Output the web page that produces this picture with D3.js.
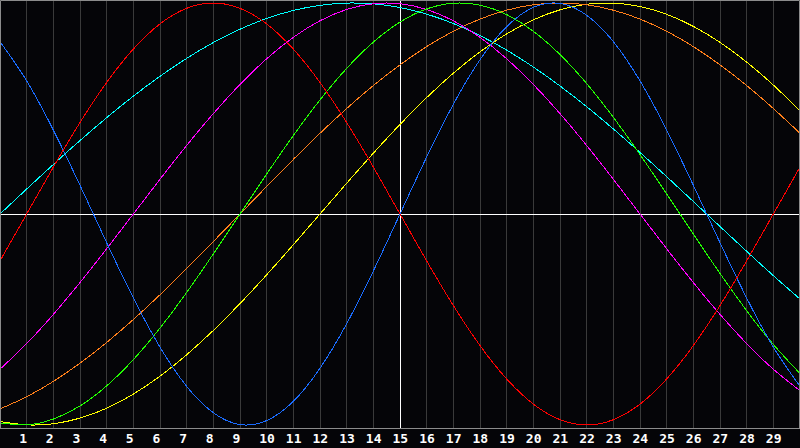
<!DOCTYPE html>
<html>
<head>
<meta charset="utf-8">
<script src="https://cdn.jsdelivr.net/npm/d3@7"></script>
<style>
  html, body { margin: 0; padding: 0; background: #050508; }
  svg { display: block; }
</style>
</head>
<body>
<svg id="chart"></svg>
<script>
const width = 800;
const height = 448;
const plotBottom = 428;

// days shown on the axis
const days = d3.range(1, 30);
const centerDay = 15;

// day positions where the curves were read (0..30)
const sampleDays = d3.range(0, 31);

// values, one per day (day 0 .. day 30)
const blue = [0.817, 0.631, 0.398, 0.136, -0.136, -0.398, -0.631, -0.817, -0.942, -0.998,
  -0.979, -0.888, -0.731, -0.520, -0.270, 0, 0.270, 0.520, 0.731, 0.888,
  0.979, 0.998, 0.942, 0.817, 0.631, 0.398, 0.136, -0.136, -0.398, -0.631, -0.817];
const red = [-0.2225, 0, 0.2225, 0.4339, 0.6235, 0.7818, 0.9010, 0.9749, 1, 0.9749,
  0.9010, 0.7818, 0.6235, 0.4339, 0.2225, 0, -0.2225, -0.4339, -0.6235, -0.7818,
  -0.9010, -0.9749, -1, -0.9749, -0.9010, -0.7818, -0.6235, -0.4339, -0.2225, 0, 0.2225];
const green = [-0.9898, -0.9989, -0.9718, -0.9096, -0.8146, -0.6901, -0.5406, -0.3717, -0.1893, 0,
  0.1893, 0.3717, 0.5406, 0.6901, 0.8146, 0.9096, 0.9718, 0.9989, 0.9898, 0.9450,
  0.8660, 0.7557, 0.6182, 0.4582, 0.2817, 0.0950, -0.0950, -0.2817, -0.4582, -0.6182, -0.7557];
const magenta = [-0.7357, -0.6142, -0.4759, -0.3247, -0.1646, 0, 0.1646, 0.3247, 0.4759, 0.6142,
  0.7357, 0.8372, 0.9158, 0.9694, 0.9966, 0.9966, 0.9694, 0.9158, 0.8372, 0.7357,
  0.6142, 0.4759, 0.3247, 0.1646, 0, -0.1646, -0.3247, -0.4759, -0.6142, -0.7357, -0.8372];
const yellow = [-0.9834, -0.9993, -0.9940, -0.9675, -0.9204, -0.8536, -0.7687, -0.6673, -0.5517, -0.4245,
  -0.2881, -0.1456, 0, 0.1456, 0.2881, 0.4245, 0.5517, 0.6673, 0.7687, 0.8536,
  0.9204, 0.9675, 0.9940, 0.9993, 0.9834, 0.9465, 0.8893, 0.8133, 0.7200, 0.6111, 0.4894];
const orange = [-0.9239, -0.8660, -0.7934, -0.7071, -0.6088, -0.5, -0.3827, -0.2588, -0.1305, 0,
  0.1305, 0.2588, 0.3827, 0.5, 0.6088, 0.7071, 0.7934, 0.8660, 0.9239, 0.9659,
  0.9914, 1, 0.9914, 0.9659, 0.9239, 0.8660, 0.7934, 0.7071, 0.6088, 0.5, 0.3827];
const cyan = [0, 0.1183, 0.2349, 0.3482, 0.4566, 0.5586, 0.6527, 0.7377, 0.8126, 0.8757,
  0.9267, 0.9646, 0.9890, 0.9996, 0.9961, 0.9785, 0.9473, 0.9028, 0.8457, 0.7767,
  0.6965, 0.6068, 0.5086, 0.4031, 0.2920, 0.1769, 0.0593, -0.0593, -0.1769, -0.2920, -0.4031];

const series = [
  { values: cyan, color: "#00ffff" },
  { values: yellow, color: "#ffff00" },
  { values: orange, color: "#ff7f1a" },
  { values: magenta, color: "#ff00ff" },
  { values: green, color: "#22ff00" },
  { values: blue, color: "#1a6cff" },
  { values: red, color: "#ff0000" },
];

const xScale = d3.scaleLinear().domain([0, 30]).range([0, width]);
const yScale = d3.scaleLinear().domain([-1, 1]).range([425, 3]);

const px = (v) => Math.floor(v) + 0.5;

const svg = d3.select("#chart")
  .attr("width", width)
  .attr("height", height)
  .style("background", "#050508");

// day grid
svg.append("g")
  .attr("class", "grid")
  .selectAll("line")
  .data(days.filter((d) => d !== centerDay))
  .join("line")
  .attr("x1", (d) => px(xScale(d)))
  .attr("x2", (d) => px(xScale(d)))
  .attr("y1", 0)
  .attr("y2", plotBottom)
  .attr("stroke", "#3a3a3a")
  .attr("stroke-width", 1);

// centre cross
svg.append("line")
  .attr("x1", px(xScale(centerDay)))
  .attr("x2", px(xScale(centerDay)))
  .attr("y1", 0)
  .attr("y2", plotBottom)
  .attr("stroke", "#ffffff");

svg.append("line")
  .attr("x1", 0)
  .attr("x2", width)
  .attr("y1", px(yScale(0)))
  .attr("y2", px(yScale(0)))
  .attr("stroke", "#ffffff");

// curves
const line = d3.line()
  .x((d, i) => xScale(sampleDays[i]))
  .y((d) => yScale(d))
  .curve(d3.curveNatural);

svg.append("g")
  .attr("class", "curves")
  .selectAll("path")
  .data(series)
  .join("path")
  .attr("d", (s) => line(s.values))
  .attr("fill", "none")
  .attr("stroke", (s) => s.color)
  .attr("stroke-width", 1)
  .attr("shape-rendering", "crispEdges");

// frame
svg.append("path")
  .attr("d", `M0.5,${plotBottom + 0.5} V0.5 H${width - 0.5} V${plotBottom + 0.5}`)
  .attr("fill", "none")
  .attr("stroke", "#8c8c8c");

// x axis
const xAxis = d3.axisBottom(xScale)
  .tickValues(days)
  .tickSize(0)
  .tickPadding(0);

const axis = svg.append("g")
  .attr("class", "x-axis")
  .attr("transform", `translate(0, ${plotBottom + 0.5})`)
  .call(xAxis);

axis.select(".domain")
  .attr("d", `M0,0H${width}`)
  .attr("stroke", "#8c8c8c");

axis.selectAll("text")
  .attr("text-anchor", "start")
  .attr("x", -8)
  .attr("y", 14.5)
  .attr("dy", 0)
  .attr("fill", "#ffffff")
  .style("font-family", "'DejaVu Sans Mono', monospace")
  .style("font-weight", "bold")
  .style("font-size", "13px");
</script>
</body>
</html>
